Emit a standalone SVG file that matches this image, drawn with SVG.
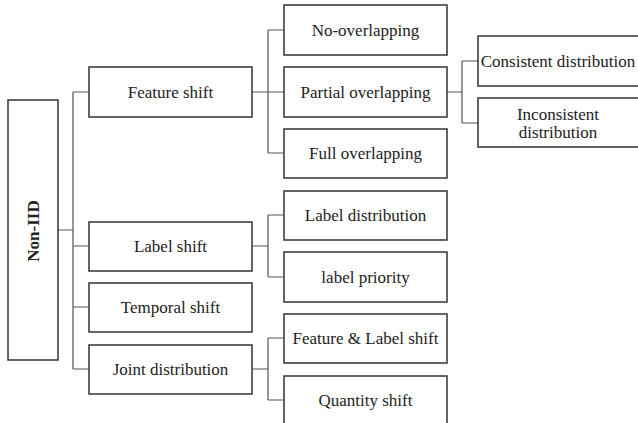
<svg xmlns="http://www.w3.org/2000/svg" width="638" height="423" viewBox="0 0 638 423">
<style>
.b{fill:#fff;stroke:#333;stroke-width:1.5}
.t{font-family:"Liberation Serif","Times New Roman",serif;font-size:17px;fill:#222;text-anchor:middle}
.c{fill:none;stroke:#555;stroke-width:1.2}
</style>
<rect width="638" height="423" fill="#fff"/>
<g id="connectors">
<path class="c" d="M58,230H73M73,92V369M73,92H89M73,246H89M73,307H89M73,369H89"/>
<path class="c" d="M252,92H284M268,30V153M268,30H284M268,153H284"/>
<path class="c" d="M252,246H268M268,215V277M268,215H284M268,277H284"/>
<path class="c" d="M252,369H268M268,338V400M268,338H284M268,400H284"/>
<path class="c" d="M447,92H462M462,61V123M462,61H478M462,123H478"/>
</g>
<g id="non-iid"><rect class="b" x="8" y="100" width="50" height="260"/>
<text class="t" transform="translate(39,231) rotate(-90)" style="font-weight:bold">Non-IID</text></g>
<g id="feature-shift"><rect class="b" x="89" y="67" width="163" height="50"/><text class="t" x="170.5" y="98">Feature shift</text></g>
<g id="label-shift"><rect class="b" x="89" y="222" width="163" height="49"/><text class="t" x="170.5" y="252">Label shift</text></g>
<g id="temporal-shift"><rect class="b" x="89" y="283" width="163" height="49"/><text class="t" x="170.5" y="313">Temporal shift</text></g>
<g id="joint-distribution"><rect class="b" x="89" y="345" width="163" height="49"/><text class="t" x="170.5" y="375">Joint distribution</text></g>
<g id="no-overlapping"><rect class="b" x="284" y="5" width="163" height="50"/><text class="t" x="365.5" y="36">No-overlapping</text></g>
<g id="partial-overlapping"><rect class="b" x="284" y="67" width="163" height="50"/><text class="t" x="365.5" y="98">Partial overlapping</text></g>
<g id="full-overlapping"><rect class="b" x="284" y="129" width="163" height="49"/><text class="t" x="365.5" y="159">Full overlapping</text></g>
<g id="label-distribution"><rect class="b" x="284" y="191" width="163" height="49"/><text class="t" x="365.5" y="221">Label distribution</text></g>
<g id="label-priority"><rect class="b" x="284" y="252" width="163" height="50"/><text class="t" x="365.5" y="283">label priority</text></g>
<g id="feature-label-shift"><rect class="b" x="284" y="314" width="163" height="49"/><text class="t" x="365.5" y="344">Feature &amp; Label shift</text></g>
<g id="quantity-shift"><rect class="b" x="284" y="376" width="163" height="60"/><text class="t" x="365.5" y="406">Quantity shift</text></g>
<g id="consistent-distribution"><rect class="b" x="478" y="36" width="170" height="50"/><text class="t" x="558" y="67">Consistent distribution</text></g>
<g id="inconsistent-distribution"><rect class="b" x="478" y="98" width="170" height="49"/><text class="t" x="558" y="120">Inconsistent</text><text class="t" x="558" y="138">distribution</text></g>
</svg>
